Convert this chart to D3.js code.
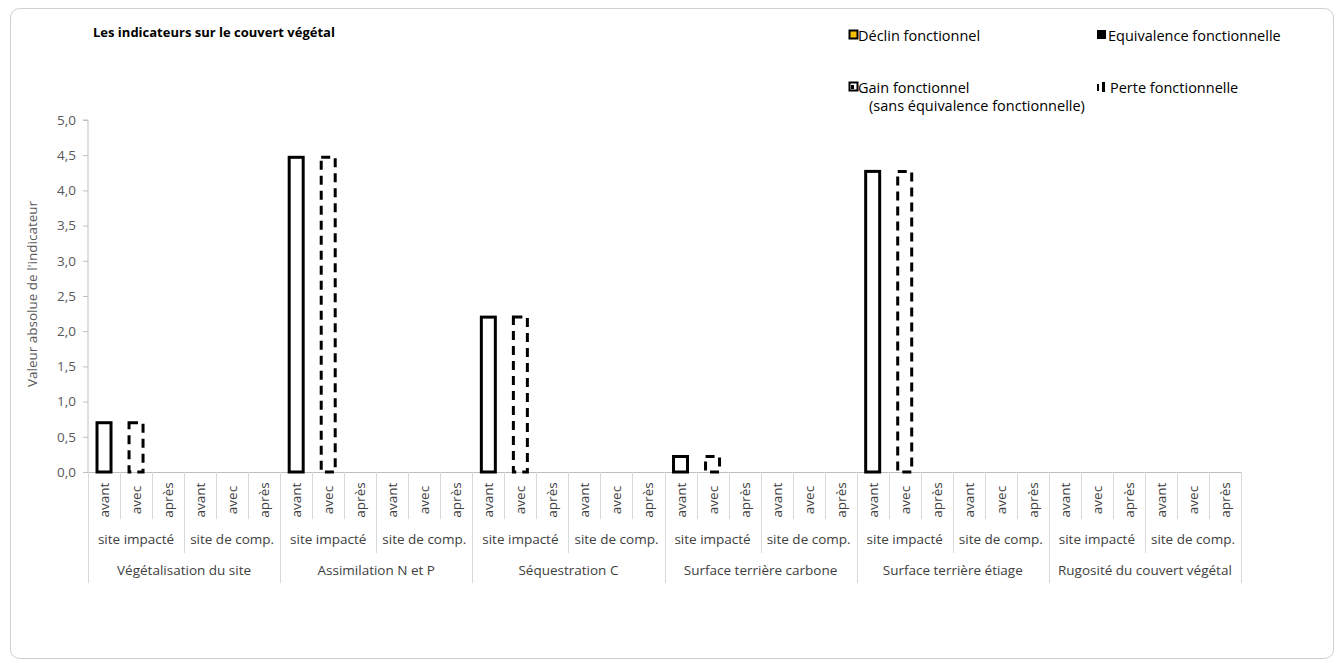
<html>
<head>
<meta charset="utf-8">
<script src="https://d3js.org/d3.v7.min.js"></script>
<style>
body { margin: 0; background: #fff; }
text { font-family: "Open Sans", "Noto Sans", sans-serif; }
</style>
</head>
<body>
<div id="chart"></div>
<script>
// chart data
var groups = ["Végétalisation du site", "Assimilation N et P", "Séquestration C",
              "Surface terrière carbone", "Surface terrière étiage", "Rugosité du couvert végétal"];
var sites = ["site impacté", "site de comp."];
var phases = ["avant", "avec", "après"];
// value of the indicator, one per group (site impacté)
var valeurAvant = [0.70, 4.47, 2.20, 0.22, 4.27, 0];   // solid outline
var valeurAvec  = [0.70, 4.47, 2.20, 0.22, 4.27, 0];   // dashed outline (perte fonctionnelle)
var yTicks = [0, 0.5, 1, 1.5, 2, 2.5, 3, 3.5, 4, 4.5, 5];
var legendItems = ["Déclin fonctionnel", "Equivalence fonctionnelle",
                   "Gain fonctionnel", "Perte fonctionnelle"];

var W = 1344, H = 667;
var mLeft = 88, mRight = 1241, mTop = 120, mBottom = 472;
var fs = "13.5px";

var svg = d3.select("#chart").append("svg")
  .attr("width", W).attr("height", H);

svg.append("rect")
  .attr("x", 10.5).attr("y", 8.5).attr("width", 1323).attr("height", 650)
  .attr("rx", 9)
  .attr("fill", "#fff").attr("stroke", "#d0d0d0");

// flat list of 36 categories
var cats = [];
groups.forEach(function(g, gi) {
  sites.forEach(function(s, si) {
    phases.forEach(function(p, pi) {
      cats.push({g: gi, s: si, p: pi, label: p});
    });
  });
});

var x = d3.scaleBand().domain(d3.range(cats.length)).range([mLeft, mRight]);
var y = d3.scaleLinear().domain([0, 5]).range([mBottom, mTop]);
var fmt = function(d) { return d3.format(".1f")(d).replace(".", ","); };

// y axis
var yaxis = d3.axisLeft(y).tickValues(yTicks).tickFormat(fmt).tickSize(5).tickPadding(7);
var gy = svg.append("g").attr("transform", "translate(" + mLeft + ",0)").call(yaxis);
gy.select(".domain").attr("stroke", "#bfbfbf").attr("d", "M-5," + mTop + "H0V" + mBottom);
gy.selectAll(".tick line").attr("stroke", "#bfbfbf");
gy.selectAll(".tick text").attr("fill", "#595959").style("font-size", fs)
  .style("font-family", "'Open Sans', sans-serif");

svg.append("text")
  .attr("transform", "translate(37,294) rotate(-90)")
  .attr("text-anchor", "middle")
  .attr("fill", "#595959")
  .style("font-size", "13.5px")
  .text("Valeur absolue de l'indicateur");

// x axis line
svg.append("line")
  .attr("x1", mLeft).attr("x2", mRight).attr("y1", mBottom + 0.5).attr("y2", mBottom + 0.5)
  .attr("stroke", "#bfbfbf");

// separators: categories, sites, groups
var bw = x.bandwidth();
var sep = svg.append("g").attr("stroke", "#d9d9d9");
d3.range(cats.length + 1).forEach(function(i) {
  var xx = Math.round(mLeft + i * bw) + 0.5;
  var y2;
  if (i % 6 === 0) y2 = 583;
  else if (i % 3 === 0) y2 = 553;
  else y2 = 519;
  sep.append("line").attr("x1", xx).attr("x2", xx).attr("y1", mBottom).attr("y2", y2);
});

// tier 1 labels
svg.append("g").selectAll("text")
  .data(cats).enter().append("text")
  .attr("transform", function(d, i) {
    return "translate(" + (x(i) + bw / 2 + 5) + ",500) rotate(-90)";
  })
  .attr("text-anchor", "middle")
  .attr("fill", "#404040")
  .style("font-size", fs)
  .text(function(d) { return d.label; });

// tier 2 labels
var siteCells = [];
groups.forEach(function(g, gi) { sites.forEach(function(s, si) { siteCells.push({gi: gi, si: si, label: s}); }); });
svg.append("g").selectAll("text")
  .data(siteCells).enter().append("text")
  .attr("x", function(d, i) { return x(i * 3) + bw * 1.5; })
  .attr("y", 544)
  .attr("text-anchor", "middle")
  .attr("fill", "#404040")
  .style("font-size", fs)
  .text(function(d) { return d.label; });

// tier 3 labels
svg.append("g").selectAll("text")
  .data(groups).enter().append("text")
  .attr("x", function(d, i) { return x(i * 6) + bw * 3; })
  .attr("y", 575)
  .attr("text-anchor", "middle")
  .attr("fill", "#404040")
  .style("font-size", fs)
  .text(function(d) { return d; });

// bars
var barW = 14;
var bars = svg.append("g");
groups.forEach(function(g, gi) {
  var v1 = valeurAvant[gi], v2 = valeurAvec[gi];
  if (v1 > 0) {
    var i1 = gi * 6;
    bars.append("rect")
      .attr("x", x(i1) + bw / 2 - barW / 2).attr("y", y(v1))
      .attr("width", barW).attr("height", y(0) - y(v1))
      .attr("fill", "#fff").attr("stroke", "#000").attr("stroke-width", 3);
  }
  if (v2 > 0) {
    var i2 = gi * 6 + 1;
    bars.append("rect")
      .attr("x", x(i2) + bw / 2 - barW / 2).attr("y", y(v2))
      .attr("width", barW).attr("height", y(0) - y(v2))
      .attr("fill", "#fff").attr("stroke", "#000").attr("stroke-width", 3)
      .attr("stroke-dasharray", "9,6");
  }
});

// title
svg.append("text")
  .attr("x", 93).attr("y", 37)
  .style("font-size", "13px").style("font-weight", "bold")
  .attr("fill", "#000")
  .text("Les indicateurs sur le couvert végétal");

// legend
var lg = svg.append("g").style("font-size", "14.5px");
var pos = [[849, 40], [1097, 40], [849, 92], [1097, 92]];
// Déclin
lg.append("rect").attr("x", pos[0][0] + 0.5).attr("y", pos[0][1] - 9.5).attr("width", 8).attr("height", 8)
  .attr("fill", "#f2c200").attr("stroke", "#000").attr("stroke-width", 2);
// Equivalence
lg.append("rect").attr("x", pos[1][0]).attr("y", pos[1][1] - 10).attr("width", 9).attr("height", 9)
  .attr("fill", "#000");
// Gain
lg.append("rect").attr("x", pos[2][0] + 0.5).attr("y", pos[2][1] - 9.5).attr("width", 8).attr("height", 8)
  .attr("fill", "#fff").attr("stroke", "#000").attr("stroke-width", 2);
lg.append("rect").attr("x", pos[2][0] + 2).attr("y", pos[2][1] - 7).attr("width", 3).attr("height", 4).attr("fill", "#000");
// Perte
lg.append("rect").attr("x", pos[3][0]).attr("y", pos[3][1] - 8).attr("width", 2).attr("height", 7).attr("fill", "#000");
lg.append("rect").attr("x", pos[3][0] + 5).attr("y", pos[3][1] - 10).attr("width", 3).attr("height", 10).attr("fill", "#000");

var tx = [858, 1108, 858, 1110];
legendItems.forEach(function(t, i) {
  lg.append("text").attr("x", tx[i]).attr("y", pos[i][1] + 1).attr("fill", "#000").text(t);
});
lg.append("text").attr("x", 869).attr("y", 111).attr("fill", "#000")
  .text("(sans équivalence fonctionnelle)");
</script>
</body>
</html>
